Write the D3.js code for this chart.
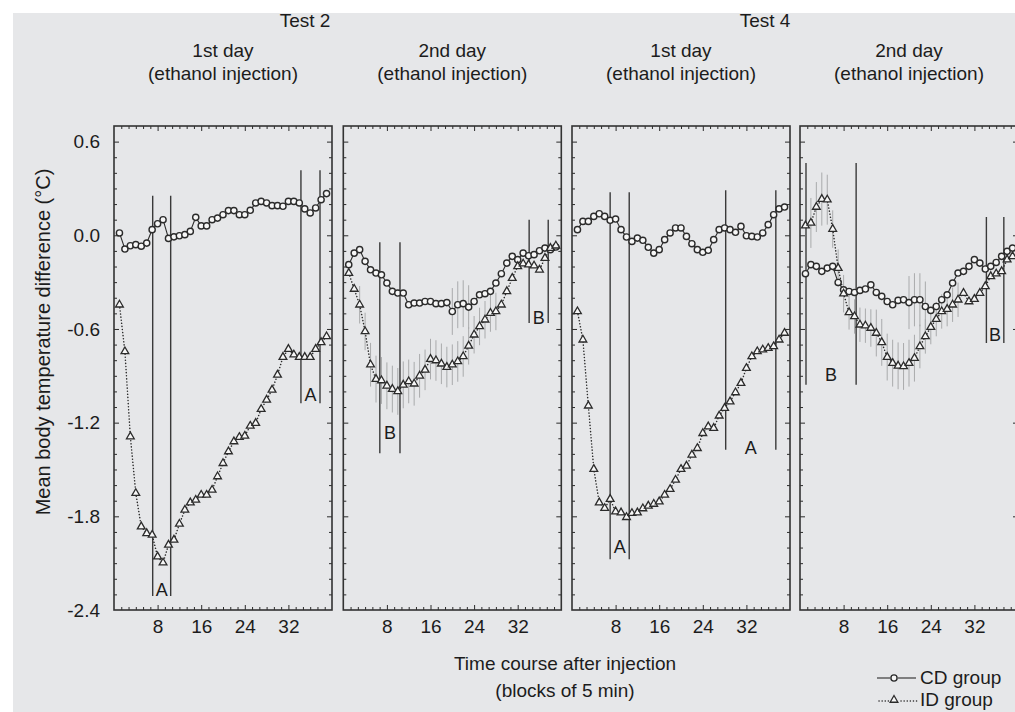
<!DOCTYPE html>
<html><head><meta charset="utf-8">
<script src="https://cdn.jsdelivr.net/npm/d3@7"></script>
<style>
body{margin:0;background:#fff}
svg{display:block}
text{font-family:"Liberation Sans",Arial,Helvetica,sans-serif;fill:#1c1c1c}
</style>
</head><body>
<svg id="c" width="1015" height="712"></svg>
<script>
// ---------- data ----------
const blocks = [1,2,3,4,5,6,7,8,9,10,11,12,13,14,15,16,17,18,19,20,21,22,23,24,25,26,27,28,29,30,31,32,33,34,35,36,37,38,39];
const testLabels = ["Test 2", "Test 4"];
const dayLabels = ["1st day", "2nd day", "1st day", "2nd day"];
const injLabel = "(ethanol injection)";
const yTicks = [0.6, 0.0, -0.6, -1.2, -1.8, -2.4];
const yTickLabels = ["0.6", "0.0", "-0.6", "-1.2", "-1.8", "-2.4"];
const xTicks = [8, 16, 24, 32];
const xDomain = [0, 40];
const yDomain = [-2.4, 0.7];
const seriesNames = ["CD group", "ID group"];

// Test 2, day 1
const cdT2D1 = [0.015,-0.088,-0.067,-0.06,-0.07,-0.05,0.036,0.074,0.1,-0.02,-0.01,-0.003,0.004,0.025,0.115,0.06,0.06,0.1,0.11,0.132,0.158,0.158,0.132,0.132,0.16,0.207,0.217,0.207,0.19,0.19,0.186,0.217,0.217,0.207,0.169,0.143,0.175,0.228,0.267];
const idT2D1 = [-0.445,-0.744,-1.289,-1.652,-1.866,-1.909,-1.919,-2.058,-2.097,-1.983,-1.951,-1.849,-1.759,-1.712,-1.695,-1.663,-1.663,-1.631,-1.545,-1.46,-1.385,-1.321,-1.293,-1.285,-1.221,-1.203,-1.114,-1.054,-0.99,-0.894,-0.78,-0.729,-0.765,-0.78,-0.78,-0.78,-0.729,-0.686,-0.648];
// Test 2, day 2
const cdT2D2 = [-0.188,-0.114,-0.092,-0.167,-0.221,-0.242,-0.253,-0.306,-0.359,-0.37,-0.37,-0.445,-0.434,-0.434,-0.424,-0.424,-0.438,-0.438,-0.431,-0.488,-0.445,-0.438,-0.46,-0.424,-0.381,-0.374,-0.359,-0.306,-0.246,-0.178,-0.135,-0.156,-0.114,-0.131,-0.124,-0.099,-0.082,-0.092,-0.075];
const idT2D2 = [-0.242,-0.344,-0.445,-0.616,-0.829,-0.921,-0.93,-0.964,-0.985,-1.0,-0.958,-0.936,-0.951,-0.9,-0.862,-0.793,-0.802,-0.823,-0.844,-0.829,-0.808,-0.776,-0.708,-0.637,-0.584,-0.541,-0.498,-0.488,-0.445,-0.359,-0.274,-0.199,-0.182,-0.188,-0.195,-0.221,-0.146,-0.082,-0.067];
const cdT2D2Err = [0,0,0,0,0,0,0,0,0,0,0,0,0,0,0,0,0,0,0,0.15,0.15,0.15,0.14,0,0,0,0,0,0,0,0,0,0,0,0,0,0,0,0];
const idT2D2Err = [0,0,0.12,0.12,0.14,0.15,0.15,0.15,0.15,0.15,0.15,0.14,0.14,0.14,0.13,0.13,0.13,0.13,0.13,0.13,0.13,0.13,0.12,0.12,0.12,0.12,0.12,0.12,0,0,0,0,0,0,0,0,0,0,0];
// Test 4, day 1
const cdT4D1 = [0.036,0.089,0.089,0.121,0.138,0.121,0.096,0.104,0.036,-0.011,-0.039,-0.018,-0.032,-0.077,-0.114,-0.092,-0.028,0.015,0.047,0.047,-0.007,-0.054,-0.092,-0.109,-0.096,-0.028,0.036,0.047,0.036,0.019,0.057,-0.003,-0.007,-0.011,0.015,0.068,0.132,0.169,0.181];
const idT4D1 = [-0.488,-0.669,-1.092,-1.498,-1.712,-1.748,-1.69,-1.77,-1.776,-1.806,-1.78,-1.776,-1.75,-1.733,-1.721,-1.706,-1.663,-1.626,-1.567,-1.498,-1.477,-1.406,-1.364,-1.268,-1.225,-1.235,-1.156,-1.107,-1.065,-1.007,-0.947,-0.851,-0.776,-0.744,-0.733,-0.723,-0.712,-0.669,-0.626];
// Test 4, day 2
const cdT4D2 = [-0.246,-0.188,-0.199,-0.231,-0.21,-0.199,-0.302,-0.349,-0.36,-0.366,-0.353,-0.344,-0.317,-0.366,-0.391,-0.424,-0.445,-0.417,-0.413,-0.431,-0.413,-0.413,-0.456,-0.481,-0.456,-0.413,-0.381,-0.306,-0.242,-0.231,-0.199,-0.156,-0.178,-0.216,-0.199,-0.174,-0.135,-0.103,-0.082];
const idT4D2 = [0.062,0.079,0.181,0.232,0.228,0.04,-0.21,-0.374,-0.494,-0.52,-0.573,-0.579,-0.594,-0.626,-0.686,-0.78,-0.819,-0.836,-0.84,-0.819,-0.787,-0.712,-0.648,-0.588,-0.537,-0.488,-0.473,-0.445,-0.413,-0.37,-0.424,-0.409,-0.37,-0.327,-0.263,-0.246,-0.231,-0.156,-0.135];
const cdT4D2Err = [0,0,0,0,0,0,0,0,0,0,0,0,0,0,0,0,0,0,0,0.17,0.17,0.17,0.16,0,0,0,0,0,0,0,0,0,0,0,0,0,0,0,0];
const idT4D2Err = [0,0.16,0.16,0.17,0.16,0.12,0.12,0.12,0.11,0.11,0.11,0.11,0.12,0.15,0.15,0.15,0.15,0.15,0.15,0.15,0.15,0.14,0.11,0.11,0.11,0.11,0.11,0.11,0.11,0,0,0,0,0,0,0,0,0,0];

// significance brackets: [x1, x2, yTop, yBottom, label, labelY]
const sigT2D1 = [[7.1,10.4,0.254,-2.31,"A",-2.27],[34.3,37.8,0.416,-1.075,"A",-1.02]];
const sigT2D2 = [[6.7,10.4,-0.045,-1.396,"B",-1.265],[34.1,37.6,0.1,-0.562,"B",-0.528]];
const sigT4D1 = [[7.0,10.5,0.275,-2.075,"A",-1.994],[28.2,37.4,0.288,-1.374,"A",-1.36]];
const sigT4D2 = [[1.1,10.3,0.463,-0.958,"B",-0.894],[34.2,37.4,0.117,-0.69,"B",-0.64]];

// ---------- layout ----------
const FS = 19;
const panelLefts = [114, 343.3, 572, 800];
const PW = 218, PT = 126, PB = 610;

const panels = [
  {cd: cdT2D1, id: idT2D1, cdErr: null, idErr: null, sig: sigT2D1},
  {cd: cdT2D2, id: idT2D2, cdErr: cdT2D2Err, idErr: idT2D2Err, sig: sigT2D2},
  {cd: cdT4D1, id: idT4D1, cdErr: null, idErr: null, sig: sigT4D1},
  {cd: cdT4D2, id: idT4D2, cdErr: cdT4D2Err, idErr: idT4D2Err, sig: sigT4D2}
];

const svg = d3.select("#c");
svg.append("rect").attr("x", 13).attr("y", 13).attr("width", 1002).attr("height", 699).attr("fill", "#e6e7e9");

const y = d3.scaleLinear().domain(yDomain).range([PB, PT]);
const minorX = d3.range(1, 30).map(i => i * 4 / 3).filter((v, i) => (i + 1) % 6 !== 0);
const minorY = d3.range(-23, 7).map(i => i / 10).filter(v => Math.abs(Math.round(v * 10) % 6) !== 0);
const majorY = yTicks.filter(v => v > yDomain[0] && v < yDomain[1]);

const ink = "#2b2b2b";
const triSym = d3.symbol().type(d3.symbolTriangle).size(26);

function styleAxis(g) {
  g.select(".domain").remove();
  g.selectAll(".tick line").attr("stroke", ink).attr("stroke-width", 1);
}

panels.forEach((p, pi) => {
  const L = panelLefts[pi];
  const x = d3.scaleLinear().domain(xDomain).range([L, L + PW]);
  const g = svg.append("g");

  // ticks: bottom / top
  g.append("g").attr("transform", `translate(0,${PB})`)
    .call(d3.axisBottom(x).tickValues(minorX).tickSize(-3).tickFormat("")).call(styleAxis);
  const bx = g.append("g").attr("transform", `translate(0,${PB})`)
    .call(d3.axisBottom(x).tickValues(xTicks).tickSize(-5).tickPadding(9.5)).call(styleAxis);
  bx.selectAll("text").attr("font-size", FS).attr("font-family", null).attr("fill", "#1c1c1c");
  g.append("g").attr("transform", `translate(0,${PT})`)
    .call(d3.axisTop(x).tickValues(minorX).tickSize(-3).tickFormat("")).call(styleAxis);
  g.append("g").attr("transform", `translate(0,${PT})`)
    .call(d3.axisTop(x).tickValues(xTicks).tickSize(-5).tickFormat("")).call(styleAxis);

  // ticks: left / right
  g.append("g").attr("transform", `translate(${L},0)`)
    .call(d3.axisLeft(y).tickValues(minorY).tickSize(-3).tickFormat("")).call(styleAxis);
  g.append("g").attr("transform", `translate(${L},0)`)
    .call(d3.axisLeft(y).tickValues(majorY).tickSize(-5).tickFormat("")).call(styleAxis);
  g.append("g").attr("transform", `translate(${L + PW},0)`)
    .call(d3.axisRight(y).tickValues(minorY).tickSize(-3).tickFormat("")).call(styleAxis);
  g.append("g").attr("transform", `translate(${L + PW},0)`)
    .call(d3.axisRight(y).tickValues(majorY).tickSize(-5).tickFormat("")).call(styleAxis);

  if (pi === 0) {
    const lab = g.append("g").attr("transform", `translate(${L},0)`)
      .call(d3.axisLeft(y).tickValues(yTicks).tickSize(0).tickPadding(14)
        .tickFormat((d, i) => yTickLabels[i]));
    lab.select(".domain").remove();
    lab.selectAll("text").attr("font-size", FS).attr("font-family", null).attr("fill", "#1c1c1c");
  }

  // frame
  g.append("rect").attr("x", L).attr("y", PT).attr("width", PW).attr("height", PB - PT)
    .attr("fill", "none").attr("stroke", "#333").attr("stroke-width", 1.6);

  // error bars
  [[p.cd, p.cdErr], [p.id, p.idErr]].forEach(([vals, errs]) => {
    if (!errs) return;
    g.append("g").selectAll("line").data(blocks.map((b, i) => ({b, v: vals[i], e: errs[i]})).filter(d => d.e > 0))
      .join("line")
      .attr("x1", d => x(d.b)).attr("x2", d => x(d.b))
      .attr("y1", d => y(d.v + d.e)).attr("y2", d => y(d.v - d.e))
      .attr("stroke", "#a9aaac").attr("stroke-width", 1);
  });

  // significance brackets
  p.sig.forEach(s => {
    [s[0], s[1]].forEach(xv => {
      g.append("line").attr("x1", x(xv)).attr("x2", x(xv)).attr("y1", y(s[2])).attr("y2", y(s[3]))
        .attr("stroke", "#3a3a3a").attr("stroke-width", 1.4);
    });
    g.append("text").attr("x", x((s[0] + s[1]) / 2)).attr("y", y(s[5]))
      .attr("text-anchor", "middle").attr("dominant-baseline", "central")
      .attr("font-size", 18).text(s[4]);
  });

  // lines
  const line = d3.line().x((d, i) => x(blocks[i])).y(d => y(d));
  g.append("path").attr("d", line(p.cd)).attr("fill", "none").attr("stroke", ink).attr("stroke-width", 1.1);
  g.append("path").attr("d", line(p.id)).attr("fill", "none").attr("stroke", ink).attr("stroke-width", 1.5)
    .attr("stroke-dasharray", "0.1,3").attr("stroke-linecap", "round");

  // markers
  g.append("g").selectAll("circle").data(p.cd).join("circle")
    .attr("cx", (d, i) => x(blocks[i])).attr("cy", d => y(d)).attr("r", 3.1)
    .attr("fill", "#f7f7f7").attr("stroke", ink).attr("stroke-width", 1.4);
  g.append("g").selectAll("path").data(p.id).join("path")
    .attr("transform", (d, i) => `translate(${x(blocks[i])},${y(d)})`).attr("d", triSym())
    .attr("fill", "#f7f7f7").attr("stroke", ink).attr("stroke-width", 1.3);

  // day labels
  svg.append("text").attr("x", L + PW / 2).attr("y", 57).attr("text-anchor", "middle").attr("font-size", FS).text(dayLabels[pi]);
  svg.append("text").attr("x", L + PW / 2).attr("y", 80).attr("text-anchor", "middle").attr("font-size", FS).text(injLabel);
});

// test labels
svg.append("text").attr("x", 305).attr("y", 27).attr("text-anchor", "middle").attr("font-size", FS).text(testLabels[0]);
svg.append("text").attr("x", 765).attr("y", 27).attr("text-anchor", "middle").attr("font-size", FS).text(testLabels[1]);

// axis titles
svg.append("text").attr("transform", "translate(50,342) rotate(-90)").attr("text-anchor", "middle")
  .attr("font-size", 20).text("Mean body temperature difference (°C)");
svg.append("text").attr("x", 565).attr("y", 670).attr("text-anchor", "middle").attr("font-size", FS).text("Time course after injection");
svg.append("text").attr("x", 565).attr("y", 697).attr("text-anchor", "middle").attr("font-size", FS).text("(blocks of 5 min)");

// legend
const lg = svg.append("g");
lg.append("line").attr("x1", 877).attr("x2", 890).attr("y1", 678).attr("y2", 678).attr("stroke", ink).attr("stroke-width", 1.1);
lg.append("line").attr("x1", 898).attr("x2", 916).attr("y1", 678).attr("y2", 678).attr("stroke", ink).attr("stroke-width", 1.1);
lg.append("circle").attr("cx", 894).attr("cy", 678).attr("r", 3.1).attr("fill", "#f7f7f7").attr("stroke", ink).attr("stroke-width", 1.4);
lg.append("text").attr("x", 920).attr("y", 684).attr("font-size", FS).text(seriesNames[0]);
lg.append("line").attr("x1", 879).attr("x2", 889).attr("y1", 701).attr("y2", 701).attr("stroke", ink).attr("stroke-width", 1.5)
  .attr("stroke-dasharray", "0.1,3").attr("stroke-linecap", "round");
lg.append("line").attr("x1", 901).attr("x2", 917).attr("y1", 701).attr("y2", 701).attr("stroke", ink).attr("stroke-width", 1.5)
  .attr("stroke-dasharray", "0.1,3").attr("stroke-linecap", "round");
lg.append("path").attr("transform", "translate(894,700)").attr("d", triSym()).attr("fill", "#f7f7f7").attr("stroke", ink).attr("stroke-width", 1.3);
lg.append("text").attr("x", 920).attr("y", 706).attr("font-size", FS).text(seriesNames[1]);
</script>
</body></html>
